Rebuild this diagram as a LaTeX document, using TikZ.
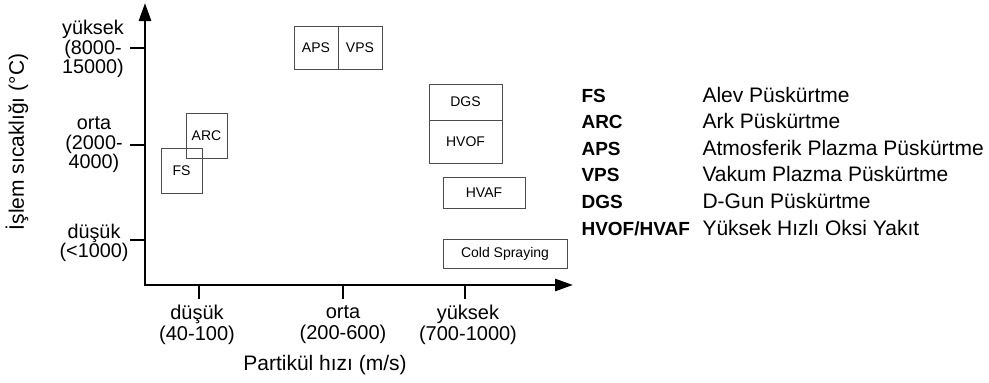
\documentclass[tikz,border=0pt]{standalone}
\usepackage{fontspec}
\setmainfont{Liberation Sans}
\usetikzlibrary{arrows.meta}
\begin{document}
\begin{tikzpicture}[x=1pt,y=-1pt,
  axisline/.style={line width=2.7pt, line join=miter,
    {Triangle[length=18pt,width=12pt]}-{Triangle[length=18pt,width=12pt]}},
  tickline/.style={line width=2.7pt},
  pbox/.style={draw=black!70, line width=1pt, inner sep=0pt,
    font=\fontsize{14}{14}\selectfont},
  ylab/.style={align=center, font=\fontsize{19.8}{19.5}\selectfont},
  xlab/.style={align=center, font=\fontsize{20}{21}\selectfont},
  title/.style={font=\fontsize{21}{21}\selectfont},
  abbr/.style={anchor=base west, font=\fontsize{19}{19}\selectfont\bfseries},
  desc/.style={anchor=base west, font=\fontsize{21}{21}\selectfont}]
\useasboundingbox (0,0) rectangle (989,383);

% axes
\coordinate (O) at (145,285);
\coordinate (ytip) at (145,3);
\coordinate (xtip) at (573,285);
\draw[axisline] (ytip) -- (O) -- (xtip);

% y ticks
\coordinate (yt1a) at (130,48);  \coordinate (yt1b) at (145,48);
\coordinate (yt2a) at (130,145); \coordinate (yt2b) at (145,145);
\coordinate (yt3a) at (130,240); \coordinate (yt3b) at (145,240);
\draw[tickline] (yt1a) -- (yt1b);
\draw[tickline] (yt2a) -- (yt2b);
\draw[tickline] (yt3a) -- (yt3b);

% x ticks
\coordinate (xt1a) at (199,285); \coordinate (xt1b) at (199,299);
\coordinate (xt2a) at (343,285); \coordinate (xt2b) at (343,299);
\coordinate (xt3a) at (465,285); \coordinate (xt3b) at (465,299);
\draw[tickline] (xt1a) -- (xt1b);
\draw[tickline] (xt2a) -- (xt2b);
\draw[tickline] (xt3a) -- (xt3b);

% y labels
\node[ylab] (yl1) at (93,49) {yüksek\\(8000-\\15000)};
\node[ylab] (yl2) at (94,145) {orta\\(2000-\\4000)};
\node[ylab] (yl3) at (94,243) {düşük\\(<1000)};

% x labels
\node[xlab] (xl1) at (197,325) {düşük\\(40-100)};
\node[xlab] (xl2) at (343,325) {orta\\(200-600)};
\node[xlab] (xl3) at (468,325) {yüksek\\(700-1000)};

% titles
\node[title] (xtitle) at (325,365) {Partikül hızı (m/s)};
\node[title, rotate=90] (ytitle) at (17,142) {İşlem sıcaklığı (°C)};

% process boxes
\node[pbox, minimum width=41pt, minimum height=45pt] (fs) at (181.5,170.5) {FS};
\node[pbox, minimum width=41pt, minimum height=45pt] (arc) at (206.5,135.5) {ARC};
\node[pbox, minimum width=44pt, minimum height=43pt] (aps) at (316,47.5) {APS};
\node[pbox, minimum width=44pt, minimum height=43pt] (vps) at (360,47.5) {VPS};
\node[pbox, minimum width=73pt, minimum height=36pt] (dgs) at (465.5,102) {DGS};
\node[pbox, minimum width=73pt, minimum height=43pt] (hvof) at (465.5,141.5) {HVOF};
\node[pbox, minimum width=82pt, minimum height=31pt] (hvaf) at (484,192.5) {HVAF};
\node[pbox, minimum width=124pt, minimum height=29pt] (cold) at (505,253.5) {Cold Spraying};

% legend
\node[abbr] (a1) at (578,102) {FS};
\node[abbr] (a2) at (578,128.6) {ARC};
\node[abbr] (a3) at (578,155.2) {APS};
\node[abbr] (a4) at (578,181.8) {VPS};
\node[abbr] (a5) at (578,208.4) {DGS};
\node[abbr] (a6) at (578,235) {HVOF/HVAF};
\node[desc] (d1) at (699,102) {Alev Püskürtme};
\node[desc] (d2) at (699,128.6) {Ark Püskürtme};
\node[desc] (d3) at (699,155.2) {Atmosferik Plazma Püskürtme};
\node[desc] (d4) at (699,181.8) {Vakum Plazma Püskürtme};
\node[desc] (d5) at (699,208.4) {D-Gun Püskürtme};
\node[desc] (d6) at (699,235) {Yüksek Hızlı Oksi Yakıt};
\end{tikzpicture}
\end{document}
